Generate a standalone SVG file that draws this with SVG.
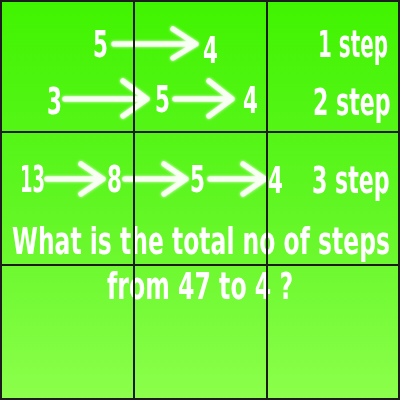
<svg xmlns="http://www.w3.org/2000/svg" width="400" height="400" viewBox="0 0 400 400">
  <defs>
    <linearGradient id="bg" x1="0" y1="0" x2="0" y2="1">
      <stop offset="0" stop-color="#40f400"/>
      <stop offset="0.5" stop-color="#5ff622"/>
      <stop offset="1" stop-color="#8cff4c"/>
    </linearGradient>
    <filter id="glow" x="-20%" y="-50%" width="140%" height="200%">
      <feGaussianBlur in="SourceGraphic" stdDeviation="1.6" result="b"/>
      <feMerge>
        <feMergeNode in="b"/>
        <feMergeNode in="SourceGraphic"/>
      </feMerge>
    </filter>
  </defs>
  <style>
    text { font-family: "DejaVu Sans", "Liberation Sans", sans-serif; font-weight: bold; font-stretch: condensed; font-size: 38px; fill: #ffffff; }
    .arrow { fill: none; stroke: #fafff5; stroke-width: 5.5; stroke-linecap: round; stroke-linejoin: round; opacity: 0.92; }
    .grid { stroke: #1c1c1c; stroke-width: 2; fill: none; }
  </style>
  <rect x="0" y="0" width="400" height="400" fill="url(#bg)"/>

  <g id="connectors" filter="url(#glow)">
    <path class="arrow" d="M114 44 H196 M173 29 L196 44 L173 58"/>
    <path class="arrow" d="M65 99 H147 M123 81 L147 99 L123 116"/>
    <path class="arrow" d="M175 99 H232 M209 81 L232 99 L209 116"/>
    <path class="arrow" d="M47 179 H103 M81 164 L103 179 L81 194"/>
    <path class="arrow" d="M125 179 H186 M164 164 L186 179 L164 194"/>
    <path class="arrow" d="M210 179 H265 M243 164 L265 179 L243 194"/>
  </g>

  <g id="row1">
    <g id="n-5a" transform="translate(93 57) scale(0.7 1)"><text x="0" y="0" textLength="21.4" lengthAdjust="spacingAndGlyphs">5</text></g>
    <g id="n-4a" transform="translate(203 63) scale(0.7 1)"><text x="0" y="0" textLength="21.4" lengthAdjust="spacingAndGlyphs">4</text></g>
    <g id="step1" transform="translate(318 57) scale(0.6 1)"><text x="0" y="0" textLength="116.7" lengthAdjust="spacingAndGlyphs">1 step</text></g>
  </g>
  <g id="row2">
    <g id="n-3b" transform="translate(47 114) scale(0.7 1)"><text x="0" y="0" textLength="21.4" lengthAdjust="spacingAndGlyphs">3</text></g>
    <g id="n-5b" transform="translate(155 112) scale(0.7 1)"><text x="0" y="0" textLength="21.4" lengthAdjust="spacingAndGlyphs">5</text></g>
    <g id="n-4b" transform="translate(243 113) scale(0.7 1)"><text x="0" y="0" textLength="21.4" lengthAdjust="spacingAndGlyphs">4</text></g>
    <g id="step2" transform="translate(313 115) scale(0.7 1)"><text x="0" y="0" textLength="111" lengthAdjust="spacingAndGlyphs">2 step</text></g>
  </g>
  <g id="row3">
    <g id="n-13c" transform="translate(20 192) scale(0.7 1)"><text x="0" y="0" textLength="35.7" lengthAdjust="spacingAndGlyphs">13</text></g>
    <g id="n-8c" transform="translate(107 192) scale(0.7 1)"><text x="0" y="0" textLength="21.4" lengthAdjust="spacingAndGlyphs">8</text></g>
    <g id="n-5c" transform="translate(190 192) scale(0.7 1)"><text x="0" y="0" textLength="21.4" lengthAdjust="spacingAndGlyphs">5</text></g>
    <g id="n-4c" transform="translate(268 193) scale(0.7 1)"><text x="0" y="0" textLength="21.4" lengthAdjust="spacingAndGlyphs">4</text></g>
    <g id="step3" transform="translate(312 193) scale(0.7 1)"><text x="0" y="0" textLength="111" lengthAdjust="spacingAndGlyphs">3 step</text></g>
  </g>
  <g id="question">
    <g transform="translate(12 254) scale(0.7 1)"><text x="0" y="0" textLength="540" lengthAdjust="spacingAndGlyphs">What is the total no of steps</text></g>
    <g transform="translate(107 299) scale(0.7 1)"><text x="0" y="0" textLength="266" lengthAdjust="spacingAndGlyphs">from 47 to 4 ?</text></g>
  </g>

  <g id="grid">
    <line class="grid" x1="134" y1="0" x2="134" y2="400"/>
    <line class="grid" x1="267" y1="0" x2="267" y2="400"/>
    <line class="grid" x1="0" y1="132" x2="400" y2="132"/>
    <line class="grid" x1="0" y1="265" x2="400" y2="265"/>
    <rect class="grid" x="1" y="1" width="398" height="398"/>
  </g>
</svg>
